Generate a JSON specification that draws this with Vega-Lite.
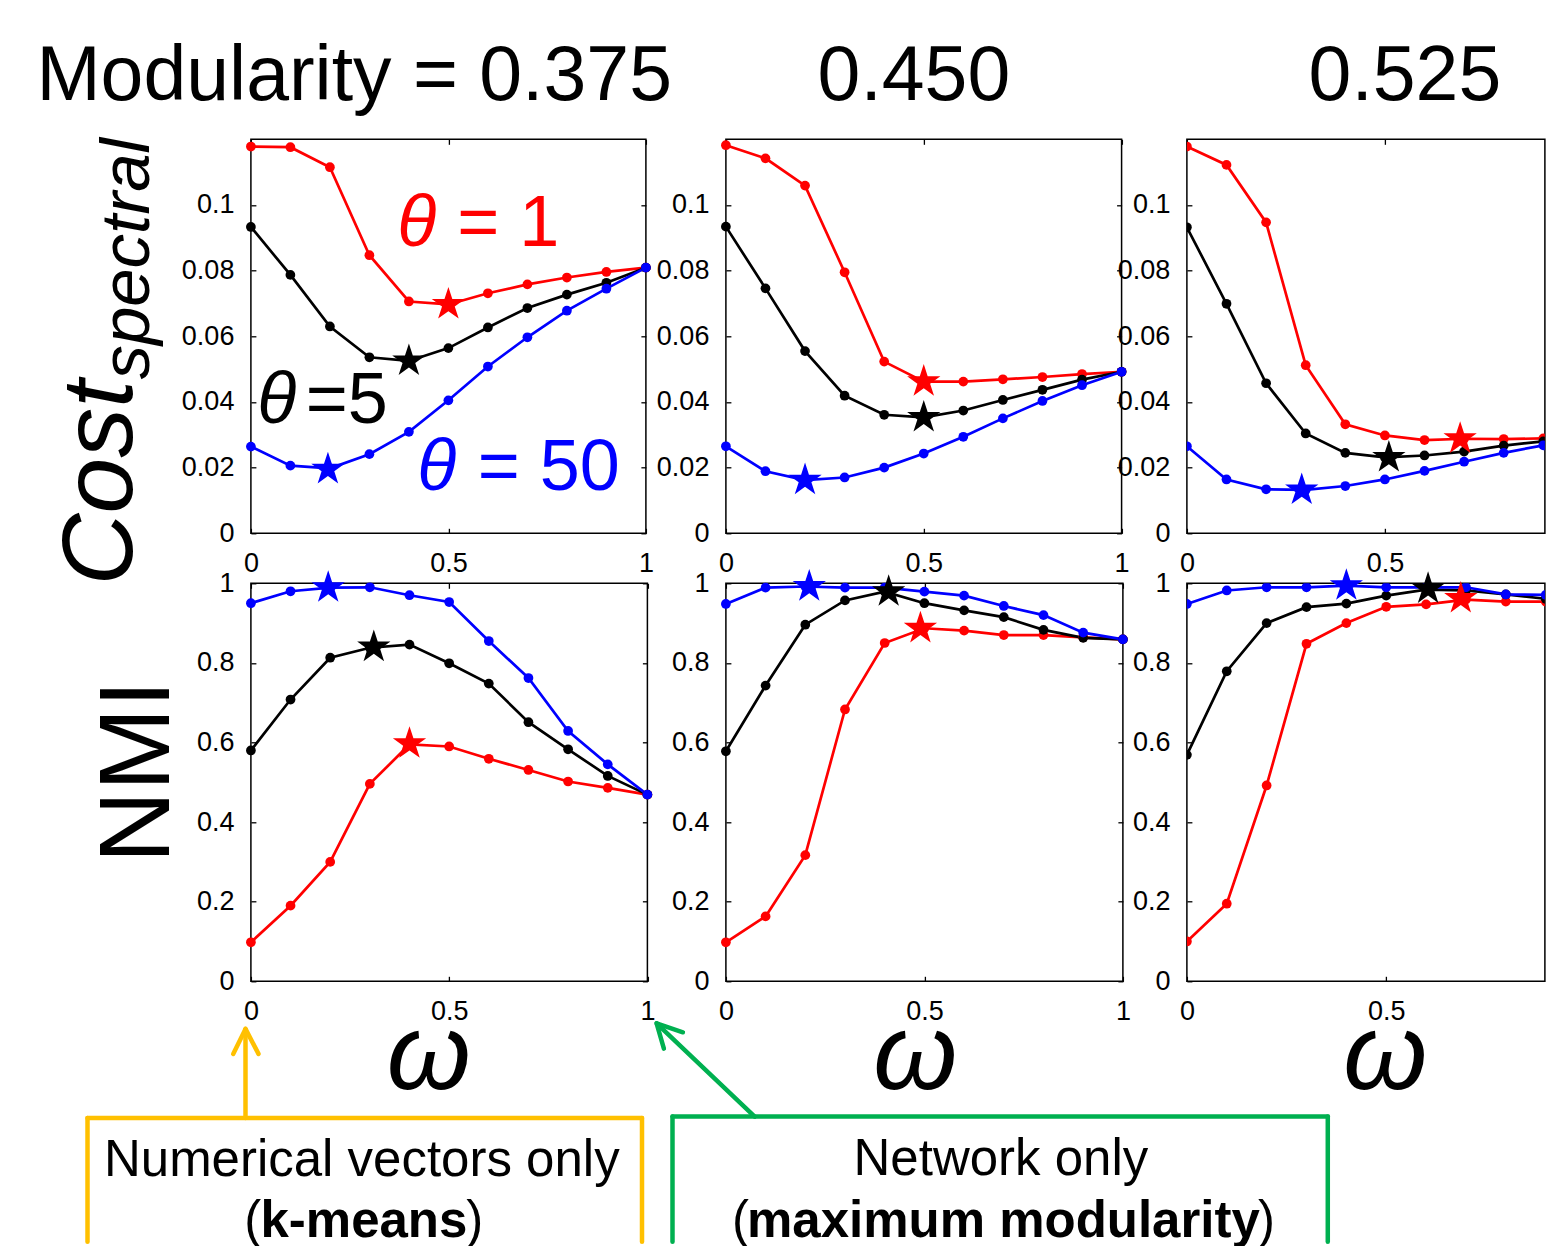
{
"$schema":"https://vega.github.io/schema/vega-lite/v6.json",
"background":"white",
"padding":{"left":34.9,"top":36.3,"right":0,"bottom":0},
"config":{
 "view":{"stroke":"#000000","strokeWidth":1.5},
 "font":"Liberation Sans",
 "axis":{"domain":false,"grid":false,"tickColor":"#000000","tickWidth":1.3,"tickSize":-5,"labelColor":"#000000","labelFont":"Liberation Sans","labelFontSize":27,"labelFlush":false,"labelOverlap":false},
 "title":{"font":"Liberation Sans","fontSize":77,"fontWeight":"normal","color":"#000000","anchor":"middle","frame":"group","baseline":"alphabetic","offset":22.5},
 "text":{"font":"Liberation Sans","color":"#000000"},
 "line":{"strokeWidth":2.7},
 "circle":{"size":95,"opacity":1}
},
"datasets":{
"curves":[
{"p":1,"t":"1","w":0,"v":0.1178},{"p":1,"t":"1","w":0.1,"v":0.1176},{"p":1,"t":"1","w":0.2,"v":0.1115},{"p":1,"t":"1","w":0.3,"v":0.0847},{"p":1,"t":"1","w":0.4,"v":0.0706},{"p":1,"t":"1","w":0.5,"v":0.0697},{"p":1,"t":"1","w":0.6,"v":0.0731},{"p":1,"t":"1","w":0.7,"v":0.0758},{"p":1,"t":"1","w":0.8,"v":0.0779},{"p":1,"t":"1","w":0.9,"v":0.0796},{"p":1,"t":"1","w":1,"v":0.0809},
{"p":1,"t":"5","w":0,"v":0.0933},{"p":1,"t":"5","w":0.1,"v":0.0787},{"p":1,"t":"5","w":0.2,"v":0.0630},{"p":1,"t":"5","w":0.3,"v":0.0536},{"p":1,"t":"5","w":0.4,"v":0.0525},{"p":1,"t":"5","w":0.5,"v":0.0564},{"p":1,"t":"5","w":0.6,"v":0.0627},{"p":1,"t":"5","w":0.7,"v":0.0686},{"p":1,"t":"5","w":0.8,"v":0.0727},{"p":1,"t":"5","w":0.9,"v":0.0763},{"p":1,"t":"5","w":1,"v":0.0809},
{"p":1,"t":"50","w":0,"v":0.0264},{"p":1,"t":"50","w":0.1,"v":0.0206},{"p":1,"t":"50","w":0.2,"v":0.0198},{"p":1,"t":"50","w":0.3,"v":0.0241},{"p":1,"t":"50","w":0.4,"v":0.0309},{"p":1,"t":"50","w":0.5,"v":0.0405},{"p":1,"t":"50","w":0.6,"v":0.0508},{"p":1,"t":"50","w":0.7,"v":0.0597},{"p":1,"t":"50","w":0.8,"v":0.0678},{"p":1,"t":"50","w":0.9,"v":0.0745},{"p":1,"t":"50","w":1,"v":0.0809},
{"p":2,"t":"1","w":0,"v":0.1182},{"p":2,"t":"1","w":0.1,"v":0.1142},{"p":2,"t":"1","w":0.2,"v":0.1059},{"p":2,"t":"1","w":0.3,"v":0.0795},{"p":2,"t":"1","w":0.4,"v":0.0523},{"p":2,"t":"1","w":0.5,"v":0.0462},{"p":2,"t":"1","w":0.6,"v":0.0462},{"p":2,"t":"1","w":0.7,"v":0.0469},{"p":2,"t":"1","w":0.8,"v":0.0476},{"p":2,"t":"1","w":0.9,"v":0.0485},{"p":2,"t":"1","w":1,"v":0.0492},
{"p":2,"t":"5","w":0,"v":0.0934},{"p":2,"t":"5","w":0.1,"v":0.0746},{"p":2,"t":"5","w":0.2,"v":0.0555},{"p":2,"t":"5","w":0.3,"v":0.0419},{"p":2,"t":"5","w":0.4,"v":0.0361},{"p":2,"t":"5","w":0.5,"v":0.0353},{"p":2,"t":"5","w":0.6,"v":0.0374},{"p":2,"t":"5","w":0.7,"v":0.0406},{"p":2,"t":"5","w":0.8,"v":0.0437},{"p":2,"t":"5","w":0.9,"v":0.0468},{"p":2,"t":"5","w":1,"v":0.0492},
{"p":2,"t":"50","w":0,"v":0.0265},{"p":2,"t":"50","w":0.1,"v":0.0189},{"p":2,"t":"50","w":0.2,"v":0.0162},{"p":2,"t":"50","w":0.3,"v":0.0170},{"p":2,"t":"50","w":0.4,"v":0.0200},{"p":2,"t":"50","w":0.5,"v":0.0243},{"p":2,"t":"50","w":0.6,"v":0.0294},{"p":2,"t":"50","w":0.7,"v":0.0350},{"p":2,"t":"50","w":0.8,"v":0.0403},{"p":2,"t":"50","w":0.9,"v":0.0451},{"p":2,"t":"50","w":1,"v":0.0492},
{"p":3,"t":"1","w":0,"v":0.1178},{"p":3,"t":"1","w":0.1,"v":0.1122},{"p":3,"t":"1","w":0.2,"v":0.0947},{"p":3,"t":"1","w":0.3,"v":0.0512},{"p":3,"t":"1","w":0.4,"v":0.0332},{"p":3,"t":"1","w":0.5,"v":0.0298},{"p":3,"t":"1","w":0.6,"v":0.0284},{"p":3,"t":"1","w":0.7,"v":0.0288},{"p":3,"t":"1","w":0.8,"v":0.0287},{"p":3,"t":"1","w":0.9,"v":0.0289},{"p":3,"t":"1","w":1,"v":0.0290},
{"p":3,"t":"5","w":0,"v":0.0932},{"p":3,"t":"5","w":0.1,"v":0.0699},{"p":3,"t":"5","w":0.2,"v":0.0457},{"p":3,"t":"5","w":0.3,"v":0.0304},{"p":3,"t":"5","w":0.4,"v":0.0245},{"p":3,"t":"5","w":0.5,"v":0.0231},{"p":3,"t":"5","w":0.6,"v":0.0237},{"p":3,"t":"5","w":0.7,"v":0.0249},{"p":3,"t":"5","w":0.8,"v":0.0267},{"p":3,"t":"5","w":0.9,"v":0.0280},{"p":3,"t":"5","w":1,"v":0.0290},
{"p":3,"t":"50","w":0,"v":0.0265},{"p":3,"t":"50","w":0.1,"v":0.0164},{"p":3,"t":"50","w":0.2,"v":0.0134},{"p":3,"t":"50","w":0.3,"v":0.0132},{"p":3,"t":"50","w":0.4,"v":0.0144},{"p":3,"t":"50","w":0.5,"v":0.0164},{"p":3,"t":"50","w":0.6,"v":0.0190},{"p":3,"t":"50","w":0.7,"v":0.0218},{"p":3,"t":"50","w":0.8,"v":0.0245},{"p":3,"t":"50","w":0.9,"v":0.0268},{"p":3,"t":"50","w":1,"v":0.0285},
{"p":4,"t":"1","w":0,"v":0.098},{"p":4,"t":"1","w":0.1,"v":0.190},{"p":4,"t":"1","w":0.2,"v":0.300},{"p":4,"t":"1","w":0.3,"v":0.496},{"p":4,"t":"1","w":0.4,"v":0.595},{"p":4,"t":"1","w":0.5,"v":0.590},{"p":4,"t":"1","w":0.6,"v":0.559},{"p":4,"t":"1","w":0.7,"v":0.531},{"p":4,"t":"1","w":0.8,"v":0.502},{"p":4,"t":"1","w":0.9,"v":0.486},{"p":4,"t":"1","w":1,"v":0.469},
{"p":4,"t":"5","w":0,"v":0.580},{"p":4,"t":"5","w":0.1,"v":0.708},{"p":4,"t":"5","w":0.2,"v":0.813},{"p":4,"t":"5","w":0.3,"v":0.838},{"p":4,"t":"5","w":0.4,"v":0.846},{"p":4,"t":"5","w":0.5,"v":0.799},{"p":4,"t":"5","w":0.6,"v":0.748},{"p":4,"t":"5","w":0.7,"v":0.651},{"p":4,"t":"5","w":0.8,"v":0.583},{"p":4,"t":"5","w":0.9,"v":0.516},{"p":4,"t":"5","w":1,"v":0.469},
{"p":4,"t":"50","w":0,"v":0.950},{"p":4,"t":"50","w":0.1,"v":0.980},{"p":4,"t":"50","w":0.2,"v":0.989},{"p":4,"t":"50","w":0.3,"v":0.990},{"p":4,"t":"50","w":0.4,"v":0.970},{"p":4,"t":"50","w":0.5,"v":0.953},{"p":4,"t":"50","w":0.6,"v":0.855},{"p":4,"t":"50","w":0.7,"v":0.762},{"p":4,"t":"50","w":0.8,"v":0.629},{"p":4,"t":"50","w":0.9,"v":0.545},{"p":4,"t":"50","w":1,"v":0.469},
{"p":5,"t":"1","w":0,"v":0.098},{"p":5,"t":"1","w":0.1,"v":0.163},{"p":5,"t":"1","w":0.2,"v":0.317},{"p":5,"t":"1","w":0.3,"v":0.683},{"p":5,"t":"1","w":0.4,"v":0.850},{"p":5,"t":"1","w":0.5,"v":0.887},{"p":5,"t":"1","w":0.6,"v":0.881},{"p":5,"t":"1","w":0.7,"v":0.870},{"p":5,"t":"1","w":0.8,"v":0.870},{"p":5,"t":"1","w":0.9,"v":0.864},{"p":5,"t":"1","w":1,"v":0.859},
{"p":5,"t":"5","w":0,"v":0.578},{"p":5,"t":"5","w":0.1,"v":0.743},{"p":5,"t":"5","w":0.2,"v":0.896},{"p":5,"t":"5","w":0.3,"v":0.957},{"p":5,"t":"5","w":0.4,"v":0.979},{"p":5,"t":"5","w":0.5,"v":0.950},{"p":5,"t":"5","w":0.6,"v":0.932},{"p":5,"t":"5","w":0.7,"v":0.915},{"p":5,"t":"5","w":0.8,"v":0.883},{"p":5,"t":"5","w":0.9,"v":0.863},{"p":5,"t":"5","w":1,"v":0.859},
{"p":5,"t":"50","w":0,"v":0.948},{"p":5,"t":"50","w":0.1,"v":0.989},{"p":5,"t":"50","w":0.2,"v":0.992},{"p":5,"t":"50","w":0.3,"v":0.989},{"p":5,"t":"50","w":0.4,"v":0.989},{"p":5,"t":"50","w":0.5,"v":0.979},{"p":5,"t":"50","w":0.6,"v":0.969},{"p":5,"t":"50","w":0.7,"v":0.943},{"p":5,"t":"50","w":0.8,"v":0.920},{"p":5,"t":"50","w":0.9,"v":0.876},{"p":5,"t":"50","w":1,"v":0.859},
{"p":6,"t":"1","w":0,"v":0.100},{"p":6,"t":"1","w":0.1,"v":0.195},{"p":6,"t":"1","w":0.2,"v":0.492},{"p":6,"t":"1","w":0.3,"v":0.848},{"p":6,"t":"1","w":0.4,"v":0.900},{"p":6,"t":"1","w":0.5,"v":0.941},{"p":6,"t":"1","w":0.6,"v":0.947},{"p":6,"t":"1","w":0.7,"v":0.959},{"p":6,"t":"1","w":0.8,"v":0.954},{"p":6,"t":"1","w":0.9,"v":0.954},{"p":6,"t":"1","w":1,"v":0.955},
{"p":6,"t":"5","w":0,"v":0.569},{"p":6,"t":"5","w":0.1,"v":0.779},{"p":6,"t":"5","w":0.2,"v":0.900},{"p":6,"t":"5","w":0.3,"v":0.940},{"p":6,"t":"5","w":0.4,"v":0.949},{"p":6,"t":"5","w":0.5,"v":0.969},{"p":6,"t":"5","w":0.6,"v":0.984},{"p":6,"t":"5","w":0.7,"v":0.982},{"p":6,"t":"5","w":0.8,"v":0.972},{"p":6,"t":"5","w":0.9,"v":0.961},{"p":6,"t":"5","w":1,"v":0.960},
{"p":6,"t":"50","w":0,"v":0.948},{"p":6,"t":"50","w":0.1,"v":0.982},{"p":6,"t":"50","w":0.2,"v":0.990},{"p":6,"t":"50","w":0.3,"v":0.990},{"p":6,"t":"50","w":0.4,"v":0.994},{"p":6,"t":"50","w":0.5,"v":0.990},{"p":6,"t":"50","w":0.6,"v":0.990},{"p":6,"t":"50","w":0.7,"v":0.990},{"p":6,"t":"50","w":0.8,"v":0.972},{"p":6,"t":"50","w":0.9,"v":0.971},{"p":6,"t":"50","w":1,"v":0.970}
],
"stars":[
{"p":1,"t":"1","w":0.5,"v":0.0697},{"p":1,"t":"5","w":0.4,"v":0.0525},{"p":1,"t":"50","w":0.195,"v":0.0195},
{"p":2,"t":"1","w":0.5,"v":0.0462},{"p":2,"t":"5","w":0.5,"v":0.0353},{"p":2,"t":"50","w":0.2,"v":0.0162},
{"p":3,"t":"1","w":0.69,"v":0.0288},{"p":3,"t":"5","w":0.51,"v":0.0231},{"p":3,"t":"50","w":0.29,"v":0.0132},
{"p":4,"t":"1","w":0.4,"v":0.597},{"p":4,"t":"5","w":0.31,"v":0.840},{"p":4,"t":"50","w":0.195,"v":0.989},
{"p":5,"t":"1","w":0.49,"v":0.887},{"p":5,"t":"5","w":0.41,"v":0.979},{"p":5,"t":"50","w":0.21,"v":0.992},
{"p":6,"t":"1","w":0.687,"v":0.962},{"p":6,"t":"5","w":0.605,"v":0.986},{"p":6,"t":"50","w":0.40,"v":0.994}
]
},
"columns":5,
"align":"each",
"bounds":"flush",
"spacing":{"row":50,"column":0},
"concat":[
{
 "width":395,"height":394,
 "title":{"text":"Modularity = 0.375","dx":-94.2},
 "resolve":{"axis":{"x":"independent","y":"independent"}},
 "layer":[
  {"data":{"name":"curves"},"transform":[{"filter":"datum.p == 1"}],"mark":{"type":"line"},
   "encoding":{"x":{"field":"w","type":"quantitative","scale":{"domain":[0,1]},"axis":{"orient":"bottom","values":[0,0.5,1],"format":".1~f","labelPadding":22,"title":null}},
   "y":{"field":"v","type":"quantitative","scale":{"domain":[0,0.12]},"axis":{"orient":"left","values":[0,0.02,0.04,0.06,0.08,0.1],"format":".2~f","labelPadding":22,"title":null}},
   "color":{"field":"t","type":"nominal","scale":{"domain":["1","5","50"],"range":["#ff0000","#000000","#0000ff"]},"legend":null}}},
  {"data":{"name":"curves"},"transform":[{"filter":"datum.p == 1"}],"mark":{"type":"circle"},
   "encoding":{"x":{"field":"w","type":"quantitative","scale":{"domain":[0,1]},"axis":{"orient":"top","values":[0,0.5,1],"labels":false,"title":null}},
   "y":{"field":"v","type":"quantitative","scale":{"domain":[0,0.12]},"axis":{"orient":"right","values":[0,0.02,0.04,0.06,0.08,0.1],"labels":false,"title":null}},
   "color":{"field":"t","type":"nominal","scale":{"domain":["1","5","50"],"range":["#ff0000","#000000","#0000ff"]},"legend":null}}},
  {"data":{"name":"stars"},"transform":[{"filter":"datum.p == 1"}],"mark":{"type":"point","shape":"M0,-1L0.2245,-0.309L0.9511,-0.309L0.3633,0.118L0.5878,0.809L0,0.382L-0.5878,0.809L-0.3633,0.118L-0.9511,-0.309L-0.2245,-0.309Z","filled":true,"size":1225,"opacity":1,"strokeWidth":0},
   "encoding":{"x":{"field":"w","type":"quantitative","scale":{"domain":[0,1]},"axis":null},
   "y":{"field":"v","type":"quantitative","scale":{"domain":[0,0.12]},"axis":null},
   "color":{"field":"t","type":"nominal","scale":{"domain":["1","5","50"],"range":["#ff0000","#000000","#0000ff"]},"legend":null}}},
  {"data":{"values":[{}]},"mark":{"type":"text","text":"θ","fontSize":72,"fontStyle":"italic","align":"left","baseline":"alphabetic","color":"#ff0000","clip":false},
   "encoding":{"x":{"datum":0.3704,"type":"quantitative","scale":{"domain":[0,1]},"axis":null},"y":{"datum":0.0876,"type":"quantitative","scale":{"domain":[0,0.12]},"axis":null}}},
  {"data":{"values":[{}]},"mark":{"type":"text","text":"= 1","fontSize":72,"align":"left","baseline":"alphabetic","color":"#ff0000","clip":false},
   "encoding":{"x":{"datum":0.5223,"type":"quantitative","scale":{"domain":[0,1]},"axis":null},"y":{"datum":0.0876,"type":"quantitative","scale":{"domain":[0,0.12]},"axis":null}}},
  {"data":{"values":[{}]},"mark":{"type":"text","text":"θ","fontSize":72,"fontStyle":"italic","align":"left","baseline":"alphabetic","color":"#000000","clip":false},
   "encoding":{"x":{"datum":0.0159,"type":"quantitative","scale":{"domain":[0,1]},"axis":null},"y":{"datum":0.0335,"type":"quantitative","scale":{"domain":[0,0.12]},"axis":null}}},
  {"data":{"values":[{}]},"mark":{"type":"text","text":"=5","fontSize":72,"align":"left","baseline":"alphabetic","color":"#000000","clip":false},
   "encoding":{"x":{"datum":0.1387,"type":"quantitative","scale":{"domain":[0,1]},"axis":null},"y":{"datum":0.0335,"type":"quantitative","scale":{"domain":[0,0.12]},"axis":null}}},
  {"data":{"values":[{}]},"mark":{"type":"text","text":"θ","fontSize":72,"fontStyle":"italic","align":"left","baseline":"alphabetic","color":"#0000ff","clip":false},
   "encoding":{"x":{"datum":0.4210,"type":"quantitative","scale":{"domain":[0,1]},"axis":null},"y":{"datum":0.0132,"type":"quantitative","scale":{"domain":[0,0.12]},"axis":null}}},
  {"data":{"values":[{}]},"mark":{"type":"text","text":"= 50","fontSize":72,"align":"left","baseline":"alphabetic","color":"#0000ff","clip":false},
   "encoding":{"x":{"datum":0.5742,"type":"quantitative","scale":{"domain":[0,1]},"axis":null},"y":{"datum":0.0132,"type":"quantitative","scale":{"domain":[0,0.12]},"axis":null}}},
  {"data":{"values":[{}]},"mark":{"type":"text","text":"Cost","fontSize":100,"fontStyle":"italic","align":"left","baseline":"alphabetic","angle":270,"color":"#000000","clip":false},
   "encoding":{"x":{"datum":-0.3005,"type":"quantitative","scale":{"domain":[0,1]},"axis":null},"y":{"datum":-0.01593,"type":"quantitative","scale":{"domain":[0,0.12]},"axis":null}}},
  {"data":{"values":[{}]},"mark":{"type":"text","text":"spectral","fontSize":69,"fontStyle":"italic","align":"left","baseline":"alphabetic","angle":270,"color":"#000000","clip":false},
   "encoding":{"x":{"datum":-0.2575,"type":"quantitative","scale":{"domain":[0,1]},"axis":null},"y":{"datum":0.04681,"type":"quantitative","scale":{"domain":[0,0.12]},"axis":null}}}
 ]
},
{"width":77.8,"height":394,"view":{"stroke":null},"data":{"values":[{}]},"mark":{"type":"text","text":""}},
{
 "width":395.7,"height":394,
 "title":{"text":"0.450","dx":-9.85},
 "resolve":{"axis":{"x":"independent","y":"independent"}},
 "layer":[
  {"data":{"name":"curves"},"transform":[{"filter":"datum.p == 2"}],"mark":{"type":"line"},
   "encoding":{"x":{"field":"w","type":"quantitative","scale":{"domain":[0,1]},"axis":{"orient":"bottom","values":[0,0.5,1],"format":".1~f","labelPadding":22,"title":null}},
   "y":{"field":"v","type":"quantitative","scale":{"domain":[0,0.12]},"axis":{"orient":"left","values":[0,0.02,0.04,0.06,0.08,0.1],"format":".2~f","labelPadding":22,"title":null}},
   "color":{"field":"t","type":"nominal","scale":{"domain":["1","5","50"],"range":["#ff0000","#000000","#0000ff"]},"legend":null}}},
  {"data":{"name":"curves"},"transform":[{"filter":"datum.p == 2"}],"mark":{"type":"circle"},
   "encoding":{"x":{"field":"w","type":"quantitative","scale":{"domain":[0,1]},"axis":{"orient":"top","values":[0,0.5,1],"labels":false,"title":null}},
   "y":{"field":"v","type":"quantitative","scale":{"domain":[0,0.12]},"axis":{"orient":"right","values":[0,0.02,0.04,0.06,0.08,0.1],"labels":false,"title":null}},
   "color":{"field":"t","type":"nominal","scale":{"domain":["1","5","50"],"range":["#ff0000","#000000","#0000ff"]},"legend":null}}},
  {"data":{"name":"stars"},"transform":[{"filter":"datum.p == 2"}],"mark":{"type":"point","shape":"M0,-1L0.2245,-0.309L0.9511,-0.309L0.3633,0.118L0.5878,0.809L0,0.382L-0.5878,0.809L-0.3633,0.118L-0.9511,-0.309L-0.2245,-0.309Z","filled":true,"size":1225,"opacity":1,"strokeWidth":0},
   "encoding":{"x":{"field":"w","type":"quantitative","scale":{"domain":[0,1]},"axis":null},
   "y":{"field":"v","type":"quantitative","scale":{"domain":[0,0.12]},"axis":null},
   "color":{"field":"t","type":"nominal","scale":{"domain":["1","5","50"],"range":["#ff0000","#000000","#0000ff"]},"legend":null}}}
 ]
},
{"width":64,"height":394,"view":{"stroke":null},"data":{"values":[{}]},"mark":{"type":"text","text":""}},
{
 "width":358,"height":394,
 "title":{"text":"0.525","dx":39},
 "resolve":{"axis":{"x":"independent","y":"independent"}},
 "layer":[
  {"data":{"name":"curves"},"transform":[{"filter":"datum.p == 3"}],"mark":{"type":"line","clip":true},
   "encoding":{"x":{"field":"w","type":"quantitative","scale":{"domain":[0,0.904]},"axis":{"orient":"bottom","values":[0,0.5],"format":".1~f","labelPadding":22,"title":null}},
   "y":{"field":"v","type":"quantitative","scale":{"domain":[0,0.12]},"axis":{"orient":"left","values":[0,0.02,0.04,0.06,0.08,0.1],"format":".2~f","labelPadding":22,"title":null}},
   "color":{"field":"t","type":"nominal","scale":{"domain":["1","5","50"],"range":["#ff0000","#000000","#0000ff"]},"legend":null}}},
  {"data":{"name":"curves"},"transform":[{"filter":"datum.p == 3"}],"mark":{"type":"circle","clip":true},
   "encoding":{"x":{"field":"w","type":"quantitative","scale":{"domain":[0,0.904]},"axis":{"orient":"top","values":[0,0.5],"labels":false,"title":null}},
   "y":{"field":"v","type":"quantitative","scale":{"domain":[0,0.12]},"axis":null},
   "color":{"field":"t","type":"nominal","scale":{"domain":["1","5","50"],"range":["#ff0000","#000000","#0000ff"]},"legend":null}}},
  {"data":{"name":"stars"},"transform":[{"filter":"datum.p == 3"}],"mark":{"type":"point","shape":"M0,-1L0.2245,-0.309L0.9511,-0.309L0.3633,0.118L0.5878,0.809L0,0.382L-0.5878,0.809L-0.3633,0.118L-0.9511,-0.309L-0.2245,-0.309Z","filled":true,"size":1225,"opacity":1,"strokeWidth":0,"clip":true},
   "encoding":{"x":{"field":"w","type":"quantitative","scale":{"domain":[0,0.904]},"axis":null},
   "y":{"field":"v","type":"quantitative","scale":{"domain":[0,0.12]},"axis":null},
   "color":{"field":"t","type":"nominal","scale":{"domain":["1","5","50"],"range":["#ff0000","#000000","#0000ff"]},"legend":null}}}
 ]
},
{
 "width":396.5,"height":398,
 "resolve":{"axis":{"x":"independent","y":"independent"}},
 "layer":[
  {"data":{"name":"curves"},"transform":[{"filter":"datum.p == 4"}],"mark":{"type":"line"},
   "encoding":{"x":{"field":"w","type":"quantitative","scale":{"domain":[0,1]},"axis":{"orient":"bottom","values":[0,0.5,1],"format":".1~f","labelPadding":22,"title":"ω","titleFont":"Liberation Sans","titleFontSize":108,"titleFontStyle":"italic","titleFontWeight":"normal","titleColor":"#000000","titleX":177.3,"titleY":107.3,"titleAlign":"center","titleBaseline":"alphabetic","titleAngle":0}},
   "y":{"field":"v","type":"quantitative","scale":{"domain":[0,1]},"axis":{"orient":"left","values":[0,0.2,0.4,0.6,0.8,1],"format":".1~f","labelPadding":22,"title":null}},
   "color":{"field":"t","type":"nominal","scale":{"domain":["1","5","50"],"range":["#ff0000","#000000","#0000ff"]},"legend":null}}},
  {"data":{"name":"curves"},"transform":[{"filter":"datum.p == 4"}],"mark":{"type":"circle"},
   "encoding":{"x":{"field":"w","type":"quantitative","scale":{"domain":[0,1]},"axis":{"orient":"top","values":[0,0.5,1],"labels":false,"title":null}},
   "y":{"field":"v","type":"quantitative","scale":{"domain":[0,1]},"axis":{"orient":"right","values":[0,0.2,0.4,0.6,0.8,1],"labels":false,"title":null}},
   "color":{"field":"t","type":"nominal","scale":{"domain":["1","5","50"],"range":["#ff0000","#000000","#0000ff"]},"legend":null}}},
  {"data":{"name":"stars"},"transform":[{"filter":"datum.p == 4"}],"mark":{"type":"point","shape":"M0,-1L0.2245,-0.309L0.9511,-0.309L0.3633,0.118L0.5878,0.809L0,0.382L-0.5878,0.809L-0.3633,0.118L-0.9511,-0.309L-0.2245,-0.309Z","filled":true,"size":1225,"opacity":1,"strokeWidth":0},
   "encoding":{"x":{"field":"w","type":"quantitative","scale":{"domain":[0,1]},"axis":null},
   "y":{"field":"v","type":"quantitative","scale":{"domain":[0,1]},"axis":null},
   "color":{"field":"t","type":"nominal","scale":{"domain":["1","5","50"],"range":["#ff0000","#000000","#0000ff"]},"legend":null}}},
  {"data":{"values":[{}]},"mark":{"type":"text","text":"NMI","fontSize":100,"align":"center","baseline":"alphabetic","angle":270,"color":"#000000","clip":false},
   "encoding":{"x":{"datum":-0.206,"type":"quantitative","scale":{"domain":[0,1]},"axis":null},"y":{"datum":0.5269,"type":"quantitative","scale":{"domain":[0,1]},"axis":null}}},
  {"data":{"values":[{}]},"mark":{"type":"rule","color":"#FFC000","strokeWidth":4.5,"strokeCap":"round","clip":false},
   "encoding":{"x":{"datum":-0.4121,"type":"quantitative","scale":{"domain":[0,1]},"axis":null},"y":{"datum":-0.3432,"type":"quantitative","scale":{"domain":[0,1]},"axis":null},"y2":{"datum":-0.6545}}},
  {"data":{"values":[{}]},"mark":{"type":"rule","color":"#FFC000","strokeWidth":4.5,"strokeCap":"round","clip":false},
   "encoding":{"x":{"datum":0.9864,"type":"quantitative","scale":{"domain":[0,1]},"axis":null},"y":{"datum":-0.3432,"type":"quantitative","scale":{"domain":[0,1]},"axis":null},"y2":{"datum":-0.6545}}},
  {"data":{"values":[{}]},"mark":{"type":"rule","color":"#FFC000","strokeWidth":4.5,"strokeCap":"round","clip":false},
   "encoding":{"x":{"datum":-0.4121,"type":"quantitative","scale":{"domain":[0,1]},"axis":null},"x2":{"datum":0.9864},"y":{"datum":-0.3432,"type":"quantitative","scale":{"domain":[0,1]},"axis":null}}},
  {"data":{"values":[{}]},"mark":{"type":"rule","color":"#FFC000","strokeWidth":4.5,"strokeCap":"round","clip":false},
   "encoding":{"x":{"datum":-0.01362,"type":"quantitative","scale":{"domain":[0,1]},"axis":null},"y":{"datum":-0.3432,"type":"quantitative","scale":{"domain":[0,1]},"axis":null},"y2":{"datum":-0.1220}}},
  {"data":{"values":[{}]},"mark":{"type":"rule","color":"#FFC000","strokeWidth":4.5,"strokeCap":"round","clip":false},
   "encoding":{"x":{"datum":-0.01362,"type":"quantitative","scale":{"domain":[0,1]},"axis":null},"x2":{"datum":-0.04464},"y":{"datum":-0.1196,"type":"quantitative","scale":{"domain":[0,1]},"axis":null},"y2":{"datum":-0.1824}}},
  {"data":{"values":[{}]},"mark":{"type":"rule","color":"#FFC000","strokeWidth":4.5,"strokeCap":"round","clip":false},
   "encoding":{"x":{"datum":-0.01362,"type":"quantitative","scale":{"domain":[0,1]},"axis":null},"x2":{"datum":0.01917},"y":{"datum":-0.1196,"type":"quantitative","scale":{"domain":[0,1]},"axis":null},"y2":{"datum":-0.1824}}},
  {"data":{"values":[{}]},"mark":{"type":"text","text":"Numerical vectors only","fontSize":51,"align":"center","baseline":"alphabetic","color":"#000000","clip":false},
   "encoding":{"x":{"datum":0.2797,"type":"quantitative","scale":{"domain":[0,1]},"axis":null},"y":{"datum":-0.4882,"type":"quantitative","scale":{"domain":[0,1]},"axis":null}}},
  {"data":{"values":[{}]},"mark":{"type":"text","text":"(","fontSize":51,"align":"right","baseline":"alphabetic","color":"#000000","clip":false},
   "encoding":{"x":{"datum":0.0260,"type":"quantitative","scale":{"domain":[0,1]},"axis":null},"y":{"datum":-0.6432,"type":"quantitative","scale":{"domain":[0,1]},"axis":null}}},
  {"data":{"values":[{}]},"mark":{"type":"text","text":"k-means","fontSize":51,"fontWeight":"bold","align":"center","baseline":"alphabetic","color":"#000000","clip":false},
   "encoding":{"x":{"datum":0.2850,"type":"quantitative","scale":{"domain":[0,1]},"axis":null},"y":{"datum":-0.6432,"type":"quantitative","scale":{"domain":[0,1]},"axis":null}}},
  {"data":{"values":[{}]},"mark":{"type":"text","text":")","fontSize":51,"align":"left","baseline":"alphabetic","color":"#000000","clip":false},
   "encoding":{"x":{"datum":0.5430,"type":"quantitative","scale":{"domain":[0,1]},"axis":null},"y":{"datum":-0.6432,"type":"quantitative","scale":{"domain":[0,1]},"axis":null}}}
 ]
},
{"width":77.8,"height":398,"view":{"stroke":null},"data":{"values":[{}]},"mark":{"type":"text","text":""}},
{
 "width":397,"height":398,
 "resolve":{"axis":{"x":"independent","y":"independent"}},
 "layer":[
  {"data":{"name":"curves"},"transform":[{"filter":"datum.p == 5"}],"mark":{"type":"line"},
   "encoding":{"x":{"field":"w","type":"quantitative","scale":{"domain":[0,1]},"axis":{"orient":"bottom","values":[0,0.5,1],"format":".1~f","labelPadding":22,"title":"ω","titleFont":"Liberation Sans","titleFontSize":108,"titleFontStyle":"italic","titleFontWeight":"normal","titleColor":"#000000","titleX":189,"titleY":107.3,"titleAlign":"center","titleBaseline":"alphabetic","titleAngle":0}},
   "y":{"field":"v","type":"quantitative","scale":{"domain":[0,1]},"axis":{"orient":"left","values":[0,0.2,0.4,0.6,0.8,1],"format":".1~f","labelPadding":22,"title":null}},
   "color":{"field":"t","type":"nominal","scale":{"domain":["1","5","50"],"range":["#ff0000","#000000","#0000ff"]},"legend":null}}},
  {"data":{"name":"curves"},"transform":[{"filter":"datum.p == 5"}],"mark":{"type":"circle"},
   "encoding":{"x":{"field":"w","type":"quantitative","scale":{"domain":[0,1]},"axis":{"orient":"top","values":[0,0.5,1],"labels":false,"title":null}},
   "y":{"field":"v","type":"quantitative","scale":{"domain":[0,1]},"axis":{"orient":"right","values":[0,0.2,0.4,0.6,0.8,1],"labels":false,"title":null}},
   "color":{"field":"t","type":"nominal","scale":{"domain":["1","5","50"],"range":["#ff0000","#000000","#0000ff"]},"legend":null}}},
  {"data":{"name":"stars"},"transform":[{"filter":"datum.p == 5"}],"mark":{"type":"point","shape":"M0,-1L0.2245,-0.309L0.9511,-0.309L0.3633,0.118L0.5878,0.809L0,0.382L-0.5878,0.809L-0.3633,0.118L-0.9511,-0.309L-0.2245,-0.309Z","filled":true,"size":1225,"opacity":1,"strokeWidth":0},
   "encoding":{"x":{"field":"w","type":"quantitative","scale":{"domain":[0,1]},"axis":null},
   "y":{"field":"v","type":"quantitative","scale":{"domain":[0,1]},"axis":null},
   "color":{"field":"t","type":"nominal","scale":{"domain":["1","5","50"],"range":["#ff0000","#000000","#0000ff"]},"legend":null}}},
  {"data":{"values":[{}]},"mark":{"type":"rule","color":"#00B050","strokeWidth":4.5,"strokeCap":"round","clip":false},
   "encoding":{"x":{"datum":-0.1345,"type":"quantitative","scale":{"domain":[0,1]},"axis":null},"y":{"datum":-0.3399,"type":"quantitative","scale":{"domain":[0,1]},"axis":null},"y2":{"datum":-0.6545}}},
  {"data":{"values":[{}]},"mark":{"type":"rule","color":"#00B050","strokeWidth":4.5,"strokeCap":"round","clip":false},
   "encoding":{"x":{"datum":1.5161,"type":"quantitative","scale":{"domain":[0,1]},"axis":null},"y":{"datum":-0.3399,"type":"quantitative","scale":{"domain":[0,1]},"axis":null},"y2":{"datum":-0.6545}}},
  {"data":{"values":[{}]},"mark":{"type":"rule","color":"#00B050","strokeWidth":4.5,"strokeCap":"round","clip":false},
   "encoding":{"x":{"datum":-0.1345,"type":"quantitative","scale":{"domain":[0,1]},"axis":null},"x2":{"datum":1.5161},"y":{"datum":-0.3399,"type":"quantitative","scale":{"domain":[0,1]},"axis":null}}},
  {"data":{"values":[{}]},"mark":{"type":"rule","color":"#00B050","strokeWidth":4.5,"strokeCap":"round","clip":false},
   "encoding":{"x":{"datum":0.0725,"type":"quantitative","scale":{"domain":[0,1]},"axis":null},"x2":{"datum":-0.1725},"y":{"datum":-0.3399,"type":"quantitative","scale":{"domain":[0,1]},"axis":null},"y2":{"datum":-0.1075}}},
  {"data":{"values":[{}]},"mark":{"type":"rule","color":"#00B050","strokeWidth":4.5,"strokeCap":"round","clip":false},
   "encoding":{"x":{"datum":-0.1745,"type":"quantitative","scale":{"domain":[0,1]},"axis":null},"x2":{"datum":-0.1083},"y":{"datum":-0.1055,"type":"quantitative","scale":{"domain":[0,1]},"axis":null},"y2":{"datum":-0.1281}}},
  {"data":{"values":[{}]},"mark":{"type":"rule","color":"#00B050","strokeWidth":4.5,"strokeCap":"round","clip":false},
   "encoding":{"x":{"datum":-0.1745,"type":"quantitative","scale":{"domain":[0,1]},"axis":null},"x2":{"datum":-0.1562},"y":{"datum":-0.1055,"type":"quantitative","scale":{"domain":[0,1]},"axis":null},"y2":{"datum":-0.1691}}},
  {"data":{"values":[{}]},"mark":{"type":"text","text":"Network only","fontSize":51,"align":"center","baseline":"alphabetic","color":"#000000","clip":false},
   "encoding":{"x":{"datum":0.6927,"type":"quantitative","scale":{"domain":[0,1]},"axis":null},"y":{"datum":-0.4857,"type":"quantitative","scale":{"domain":[0,1]},"axis":null}}},
  {"data":{"values":[{}]},"mark":{"type":"text","text":"(","fontSize":51,"align":"right","baseline":"alphabetic","color":"#000000","clip":false},
   "encoding":{"x":{"datum":0.0579,"type":"quantitative","scale":{"domain":[0,1]},"axis":null},"y":{"datum":-0.6415,"type":"quantitative","scale":{"domain":[0,1]},"axis":null}}},
  {"data":{"values":[{}]},"mark":{"type":"text","text":"maximum modularity","fontSize":51,"fontWeight":"bold","align":"center","baseline":"alphabetic","color":"#000000","clip":false},
   "encoding":{"x":{"datum":0.6990,"type":"quantitative","scale":{"domain":[0,1]},"axis":null},"y":{"datum":-0.6415,"type":"quantitative","scale":{"domain":[0,1]},"axis":null}}},
  {"data":{"values":[{}]},"mark":{"type":"text","text":")","fontSize":51,"align":"left","baseline":"alphabetic","color":"#000000","clip":false},
   "encoding":{"x":{"datum":1.3401,"type":"quantitative","scale":{"domain":[0,1]},"axis":null},"y":{"datum":-0.6415,"type":"quantitative","scale":{"domain":[0,1]},"axis":null}}}
 ]
},
{"width":64,"height":398,"view":{"stroke":null},"data":{"values":[{}]},"mark":{"type":"text","text":""}},
{
 "width":358,"height":398,
 "resolve":{"axis":{"x":"independent","y":"independent"}},
 "layer":[
  {"data":{"name":"curves"},"transform":[{"filter":"datum.p == 6"}],"mark":{"type":"line","clip":true},
   "encoding":{"x":{"field":"w","type":"quantitative","scale":{"domain":[0,0.898]},"axis":{"orient":"bottom","values":[0,0.5],"format":".1~f","labelPadding":22,"title":"ω","titleFont":"Liberation Sans","titleFontSize":108,"titleFontStyle":"italic","titleFontWeight":"normal","titleColor":"#000000","titleX":198,"titleY":107.3,"titleAlign":"center","titleBaseline":"alphabetic","titleAngle":0}},
   "y":{"field":"v","type":"quantitative","scale":{"domain":[0,1]},"axis":{"orient":"left","values":[0,0.2,0.4,0.6,0.8,1],"format":".1~f","labelPadding":22,"title":null}},
   "color":{"field":"t","type":"nominal","scale":{"domain":["1","5","50"],"range":["#ff0000","#000000","#0000ff"]},"legend":null}}},
  {"data":{"name":"curves"},"transform":[{"filter":"datum.p == 6"}],"mark":{"type":"circle","clip":true},
   "encoding":{"x":{"field":"w","type":"quantitative","scale":{"domain":[0,0.898]},"axis":{"orient":"top","values":[0,0.5],"labels":false,"title":null}},
   "y":{"field":"v","type":"quantitative","scale":{"domain":[0,1]},"axis":null},
   "color":{"field":"t","type":"nominal","scale":{"domain":["1","5","50"],"range":["#ff0000","#000000","#0000ff"]},"legend":null}}},
  {"data":{"name":"stars"},"transform":[{"filter":"datum.p == 6"}],"mark":{"type":"point","shape":"M0,-1L0.2245,-0.309L0.9511,-0.309L0.3633,0.118L0.5878,0.809L0,0.382L-0.5878,0.809L-0.3633,0.118L-0.9511,-0.309L-0.2245,-0.309Z","filled":true,"size":1225,"opacity":1,"strokeWidth":0},
   "encoding":{"x":{"field":"w","type":"quantitative","scale":{"domain":[0,0.898]},"axis":null},
   "y":{"field":"v","type":"quantitative","scale":{"domain":[0,1]},"axis":null},
   "color":{"field":"t","type":"nominal","scale":{"domain":["1","5","50"],"range":["#ff0000","#000000","#0000ff"]},"legend":null}}}
 ]
}
]
}
